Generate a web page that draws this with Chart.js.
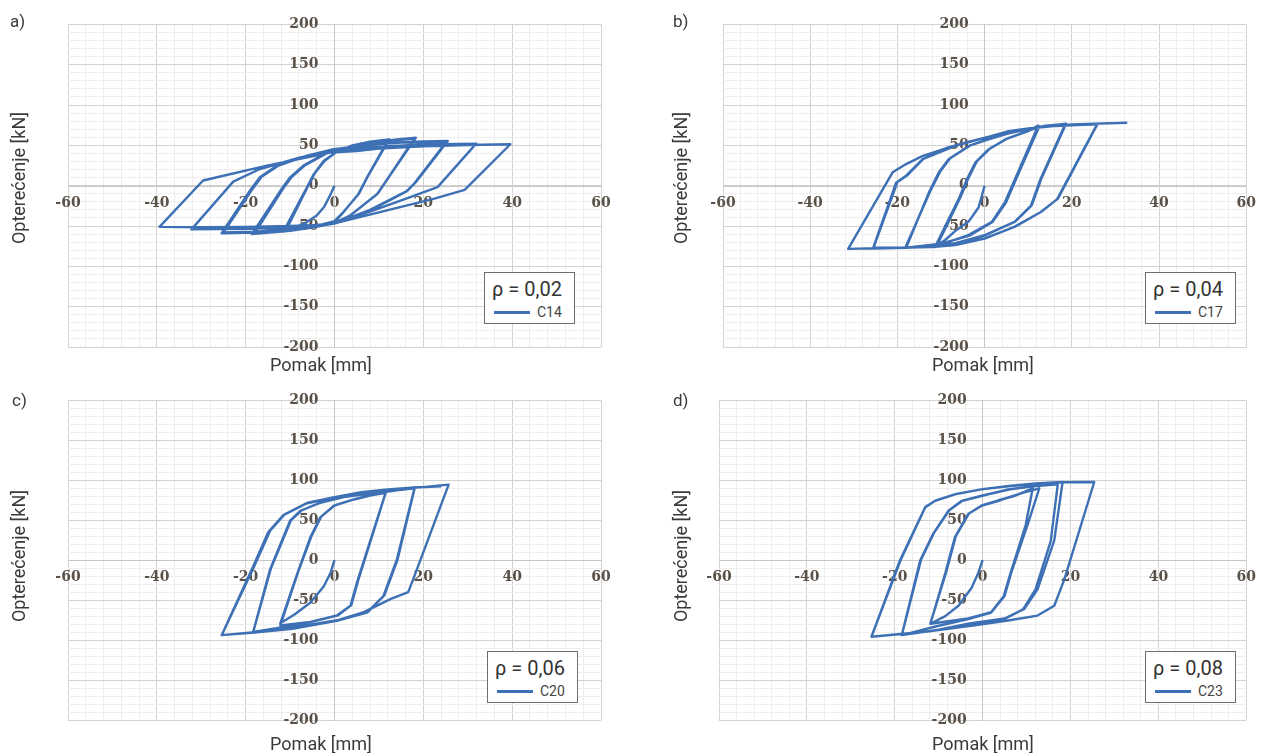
<!DOCTYPE html>
<html>
<head>
<meta charset="utf-8">
<script src="https://cdn.jsdelivr.net/npm/chart.js@4.4.1/dist/chart.umd.min.js"></script>
<style>
  body { margin: 0; background: #fff; }
  #wrap { position: relative; width: 1265px; height: 753px; overflow: hidden; font-family: Roboto, "Noto Sans", sans-serif; color: #3a3a3a; }
  #wrap canvas { position: absolute; }
  .tag { position: absolute; font-size: 17px; transform: translateY(-50%); }
  .xt { position: absolute; font-size: 18px; transform: translate(-50%, -50%); white-space: nowrap; }
  .yt { position: absolute; font-size: 18px; transform: translate(-50%, -50%) rotate(-90deg); white-space: nowrap; }
  .lg { position: absolute; width: 89px; height: 50px; border: 1.5px solid #6e6e6e; background: #fff; }
  .lg .t { position: absolute; left: 7px; top: 4px; font-size: 20px; color: #333; white-space: nowrap; }
  .lg .s { position: absolute; left: 9px; top: 38px; width: 36px; height: 2.5px; background: #3d70b4; }
  .lg .n { position: absolute; left: 52px; top: 31px; font-size: 14px; color: #444; }
</style>
</head>
<body>
<div id="wrap"></div>
<script>
// panel letters, legend texts, axis titles
const panelTags = ['a)', 'b)', 'c)', 'd)'];
const ratioLabels = ['ρ = 0,02', 'ρ = 0,04', 'ρ = 0,06', 'ρ = 0,08'];
const specimenNames = ['C14', 'C17', 'C20', 'C23'];
const xTitle = 'Pomak [mm]';
const yTitle = 'Opterećenje [kN]';

// axis ranges and tick steps (labels only on the major steps)
const xRange = [-60, 60];
const yRange = [-200, 200];
const xMinorStep = 4, xMajorStep = 20;
const yMinorStep = 10, yMajorStep = 50;

// hysteresis loops: [displacement mm, force kN]
const loopC14 = [
  [0,0],[-1,-12],[-2.3,-26],[-4,-37],[-6.5,-46],[-9,-52],[-11.5,-57],
  [-6.2,-2],[-4.7,14],[-2.4,31],[0.2,41],[4,50],[8,54.5],[12.3,57.5],
  [7.4,10.5],[5.5,-10],[2.1,-32],[0,-44],[-5,-51],[-11,-56],
  [-6,-1],[-4.5,15],[-2.2,31],[0.5,42],[4,49],[8,53],[12,56],
  [7.2,9],[5.3,-11],[2,-33],[0,-45],[-5,-52],[-10,-56],[-18.6,-60],
  [-11.9,-4],[-10,10.4],[-7,25],[-2.4,39],[0,43],[5,50],[10,54.5],[14,57.5],[18.3,59.5],
  [12.7,14.5],[9.7,-10],[3.6,-36.6],[0,-46],[-5,-52],[-10,-56],[-18,-59],
  [-11.5,-3],[-9.6,11],[-6.6,25.5],[-2,39.5],[0,43.5],[5,50],[10,54],[14,56.5],[18,58.5],
  [12.5,13],[9.5,-11],[3.5,-37],[0,-46.5],[-5,-52],[-10,-55],[-18,-58],[-25.4,-59],
  [-19,-6],[-16.8,10.4],[-13,24.8],[-6.2,37],[-0.5,45],[5,49],[10,52],[15,54],[20,55],[25.5,55.4],
  [18.3,4.3],[16.5,-5.9],[8,-30],[0,-46.8],[-5,-51],[-10,-54],[-18,-57],[-25,-58],
  [-18.6,-5],[-16.4,11],[-12.6,25],[-6,37.5],[-0.3,45],[5,48.5],[10,51.5],[15,53.5],[20,54],[25.2,54.5],
  [18,3],[16.2,-7],[8,-31],[0,-47],[-5,-50],[-10,-52],[-20,-53.5],[-32.2,-54.2],
  [-22.8,5.1],[-16.8,20.7],[-7.7,35],[-0.9,43],[5,46],[10,48.5],[20,51],[31.9,52.2],
  [23.2,-1.8],[17.2,-14],[8,-32],[0,-47],[-5,-49],[-10,-50],[-20,-51],[-30,-51.5],[-39.4,-51],
  [-29.6,6.4],[-15.2,24.8],[-0.9,41],[5,43],[10,46],[20,49],[30,50.5],[39.6,51.4],
  [29.3,-5.1],[22.5,-16.1],[10,-33],[0,-46.8]
];
const loopC17 = [
  [0,0],[-1.4,-27],[-3.6,-44],[-6.7,-56],[-9,-67],[-11.4,-76],
  [-5.9,-16],[-4,8.6],[-2.1,29],[0.9,45],[4.7,57.4],[10,67.7],[12.3,74.6],
  [7,8.6],[4.7,-20],[1.7,-44.6],[-3.6,-61],[-11,-75],
  [-5.6,-15],[-3.7,9.5],[-1.8,30],[1.2,46],[5,58],[10,68],[12.5,73],
  [7.2,8],[4.9,-21],[1.8,-45],[-3.5,-62],[-10,-72],[-18,-77],
  [-12.7,-7.6],[-10.5,16.6],[-8.2,33],[-3.6,49.3],[0.9,57.4],[5.5,65],[10,70],[14,74],[18.7,77],
  [13,8.6],[10.8,-24.4],[7,-44.6],[0.2,-61],[-6.7,-71.3],[-12,-75],[-18.2,-77],
  [-12.4,-6],[-10.2,17.5],[-7.9,34],[-3.3,50],[1,58],[5.5,65.5],[10,70.5],[14,74.5],[18.5,76.5],
  [12.8,8],[10.6,-25],[6.8,-45],[0,-62],[-6.7,-71.5],[-12,-75.5],[-18,-77],[-25.6,-77.8],
  [-20.3,3.7],[-18,12.4],[-14.2,33],[-6.7,49.3],[0.2,59.5],[5.5,67.7],[10,71],[15,73.5],[20,75.5],[25.9,76.6],
  [16.8,-16],[13,-32.3],[7,-50.7],[0.2,-65],[-6.7,-73.4],[-12,-75.5],[-18,-76.5],[-25.5,-77],
  [-20,4.5],[-17.7,13],[-14,33.5],[-6.5,50],[0.3,60],[5.5,67],[10,71],[15,73.5],[20,75],[25.8,76],
  [16.6,-17],[12.8,-33],[6.8,-51],[0,-65.5],[-6.7,-73.5],[-12,-76],[-20,-77],[-31.3,-78.3],
  [-21.1,16.6],[-18,26.8],[-14.3,36.6],[-8.9,46.4],[-3.6,54.6],[0.2,59.5],[5.5,66],[10,71],[20,76],[32.7,78]
];
const loopC20 = [
  [0,0],[-0.9,-16],[-2.4,-32.5],[-5.4,-53],[-9,-68],[-12.2,-79],
  [-8.4,-17],[-5.4,29],[-3.2,53.6],[-0.2,68],[4.4,76],[8,81],[11.5,84.4],
  [5.1,-27],[3.6,-57],[0.6,-69],[-5.4,-77.3],[-12.2,-81.5],
  [-8.2,-15],[-5.2,30],[-3,54.5],[0,68.5],[4.5,76.5],[8,81.5],[11.5,84],
  [5.3,-26],[3.8,-56],[0.8,-69],[-5.4,-77.5],[-12,-84],[-18.3,-89.7],
  [-14.5,-11.5],[-10,49.5],[-7.7,61.8],[-3.2,71.9],[2.1,79],[8,83.5],[13,86.5],[18.1,91.3],
  [14.2,0.8],[11.2,-44.2],[7.5,-65],[0.6,-75.2],[-9.1,-85.5],[-18.3,-89.7],
  [-14.3,-10],[-9.8,50],[-7.4,62.5],[-3,72.5],[2.3,79.5],[8,84],[13,87],[18,90],
  [14,0],[11,-45],[7.3,-65.5],[0.5,-76],[-9.5,-86],[-18,-90.5],[-25.4,-93.8],
  [-18.5,-10],[-14.9,35.2],[-11.5,56.5],[-6.2,71.3],[-0.2,78],[5.9,84.4],[12,88],[18,90.5],[25.7,94.6],
  [18,-19.7],[16.6,-40],[12.7,-48.5],[6.6,-65],[0.6,-75.2],[-13,-87.6],[-25.4,-93.8],
  [-18.2,-9],[-14.5,37],[-11.2,57.5],[-6,72],[0,79],[6,85],[12,88.5],[18,91],[24,92.6]
];
const loopC23 = [
  [0,0],[-1,-16],[-2.5,-34.5],[-5.5,-57],[-8.5,-70],[-11.9,-79.5],
  [-8.5,-16],[-6.3,29],[-3.3,57.7],[-0.3,68],[3.5,74],[6,79],[9.5,85],[12.9,90],
  [10.3,45.4],[6.5,-16],[5,-44.7],[2,-65],[-3.3,-73],[-11.9,-79.5],
  [-8.3,-15],[-6.1,30],[-3.1,58.5],[0,69],[3.6,75],[7,80],[11.4,90],
  [9.8,44],[6.3,-17],[4.8,-45],[1.8,-66],[-3.5,-74],[-10,-82],[-18.4,-93.8],
  [-14.2,0],[-11.2,33.6],[-7.8,61.8],[-4.8,74],[-0.3,80.2],[5.8,88.6],[11.4,92.5],[18.2,97.9],
  [16.3,24.8],[12.5,-36.4],[9.5,-61],[5,-73],[-3.3,-79.5],[-10,-87],[-18.4,-93.8],
  [-14,1],[-11,35],[-7.6,62.5],[-4.6,74.5],[0,81],[6,88.5],[11.5,92.5],[17.1,95],
  [15.5,24],[12,-37],[9.2,-61.5],[5,-73.5],[-3.3,-80],[-12,-89],[-25.3,-95.8],
  [-18.8,0],[-13.1,66],[-10.8,74.4],[-6.3,82.5],[-0.3,88.6],[5.8,92.6],[12,95.5],[18.2,97.5],[25.4,97.9],
  [18.6,-24],[16.3,-57],[12.5,-69.3],[5.8,-75.4],[-1.8,-81.5],[-13.1,-89.7],[-25.3,-95.8],
  [-18.6,1],[-13,67],[-10.6,75],[-6,83],[0,89],[6,93],[12,96],[18.2,98]
];
const loops = [loopC14, loopC17, loopC20, loopC23];

// where each panel sits on the page
const frames = [
  { left: 0,   top: 0,   w: 632, h: 376, pad: { left: 68, top: 21, right: 31, bottom: 29 }, tag: [10, 21],  yt: [18, 178],  xt: [321, 364], lg: [484, 272] },
  { left: 632, top: 0,   w: 633, h: 376, pad: { left: 91, top: 21, right: 12, bottom: 29 }, tag: [673, 21], yt: [680, 178], xt: [983, 364], lg: [1145, 272] },
  { left: 0,   top: 376, w: 632, h: 377, pad: { left: 68, top: 18, right: 31, bottom: 33 }, tag: [12, 400], yt: [18, 556],  xt: [321, 743], lg: [487, 651] },
  { left: 632, top: 376, w: 633, h: 377, pad: { left: 87, top: 18, right: 13, bottom: 33 }, tag: [673, 400], yt: [680, 556], xt: [983, 743], lg: [1145, 651] }
];

const lineBlue = '#3d70b4';
const tickFont = { family: '"DejaVu Serif", serif', size: 14, weight: 'bold' };
const isMajor = (v, step) => Math.abs(v % step) < 1e-6;
const wrap = document.getElementById('wrap');

function addText(cls, text, x, y) {
  const d = document.createElement('div');
  d.className = cls;
  d.textContent = text;
  d.style.left = x + 'px';
  d.style.top = y + 'px';
  wrap.appendChild(d);
}

frames.forEach((f, i) => {
  const cv = document.createElement('canvas');
  cv.width = f.w; cv.height = f.h;
  cv.style.left = f.left + 'px'; cv.style.top = f.top + 'px';
  wrap.appendChild(cv);

  new Chart(cv.getContext('2d'), {
    type: 'scatter',
    data: {
      datasets: [{
        label: specimenNames[i],
        data: loops[i].map(p => ({ x: p[0], y: p[1] })),
        showLine: true,
        borderColor: lineBlue,
        borderWidth: 2.4,
        borderJoinStyle: 'round',
        pointRadius: 0,
        tension: 0,
        fill: false
      }]
    },
    options: {
      responsive: false,
      animation: false,
      devicePixelRatio: 1,
      layout: { padding: f.pad },
      plugins: { legend: { display: false }, tooltip: { enabled: false } },
      scales: {
        x: {
          type: 'linear',
          position: 'center',
          min: xRange[0], max: xRange[1],
          afterFit: s => { s.height = 0; },
          grid: {
            drawTicks: false,
            color: c => isMajor(c.tick.value, xMajorStep) ? '#d2d2d2' : '#eeeeee'
          },
          border: { color: '#c6c6c6' },
          ticks: {
            stepSize: xMinorStep, autoSkip: false, maxRotation: 0, padding: 9,
            font: tickFont, color: '#5a5249',
            callback: v => isMajor(v, xMajorStep) ? String(v) : ''
          }
        },
        y: {
          type: 'linear',
          position: 'center',
          min: yRange[0], max: yRange[1],
          afterFit: s => { s.width = 0; },
          grid: {
            drawTicks: false,
            color: c => isMajor(c.tick.value, yMajorStep) ? '#d2d2d2' : '#eeeeee'
          },
          border: { color: '#c6c6c6' },
          ticks: {
            stepSize: yMinorStep, autoSkip: false, padding: 16,
            font: tickFont, color: '#5a5249',
            callback: v => isMajor(v, yMajorStep) ? String(v) : ''
          }
        }
      }
    }
  });

  addText('tag', panelTags[i], f.tag[0], f.tag[1]);
  addText('yt', yTitle, f.yt[0], f.yt[1]);
  addText('xt', xTitle, f.xt[0], f.xt[1]);

  const lg = document.createElement('div');
  lg.className = 'lg';
  lg.style.left = f.lg[0] + 'px'; lg.style.top = f.lg[1] + 'px';
  lg.innerHTML = '<div class="t"></div><div class="s"></div><div class="n"></div>';
  lg.querySelector('.t').textContent = ratioLabels[i];
  lg.querySelector('.n').textContent = specimenNames[i];
  wrap.appendChild(lg);
});
</script>
</body>
</html>
